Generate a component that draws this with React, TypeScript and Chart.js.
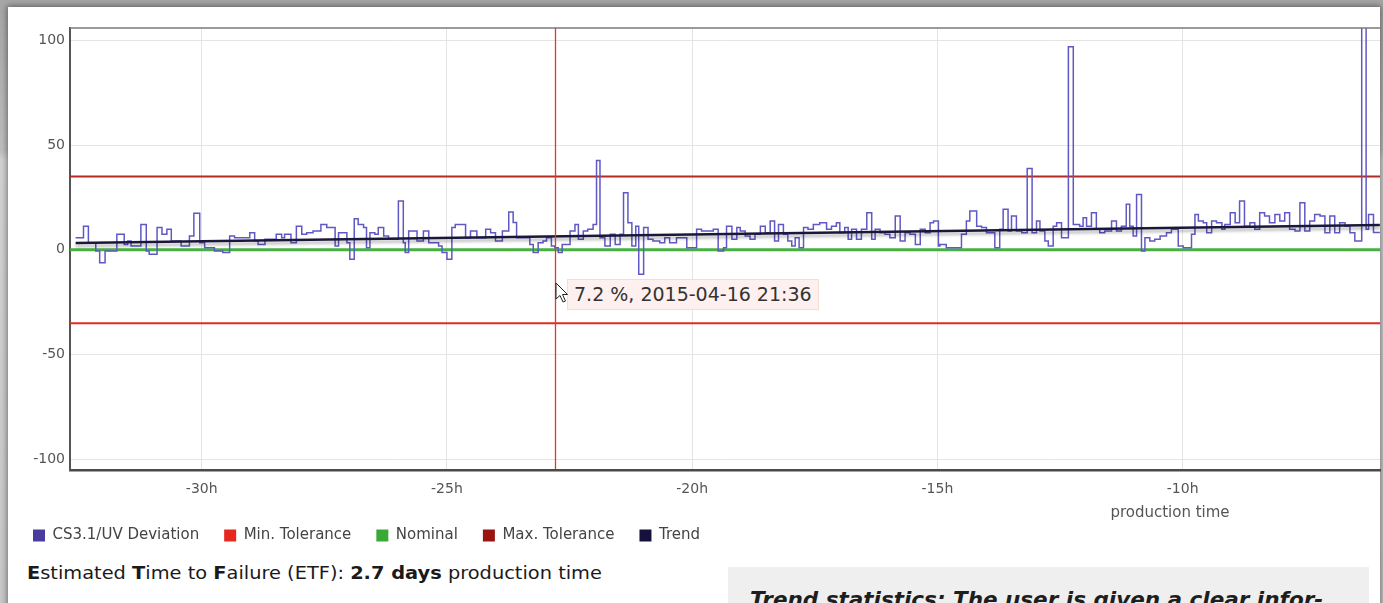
import React, { useEffect, useRef } from 'react';
import { Chart, registerables } from 'chart.js';

Chart.register(...registerables);

// ---- data ----
const deviationHours = [
  -32.57, -32.41, -32.31, -32.16, -32.08, -31.97, -31.73, -31.58, -31.51, -31.44,
  -31.24, -31.13, -31.07, -30.91, -30.81, -30.71, -30.62, -30.42, -30.25, -30.16,
  -30.04, -29.94, -29.74, -29.57, -29.43, -29.33, -29.02, -28.92, -28.85, -28.71,
  -28.48, -28.37, -28.31, -28.18, -28.07, -27.96, -27.86, -27.73, -27.57, -27.45,
  -27.28, -27.21, -27.04, -26.98, -26.89, -26.81, -26.70, -26.64, -26.57, -26.47,
  -26.40, -26.29, -26.19, -25.99, -25.89, -25.85, -25.78, -25.61, -25.48, -25.37,
  -25.17, -25.10, -25.00, -24.90, -24.83, -24.62, -24.52, -24.39, -24.21, -24.11,
  -24.01, -23.87,
  -23.74, -23.65, -23.58, -23.31, -23.24, -23.14, -23.04, -22.97, -22.87, -22.80,
  -22.73, -22.65, -22.49, -22.39, -22.32, -22.22, -22.13, -22.02, -21.95, -21.88,
  -21.78, -21.67, -21.57, -21.47, -21.40, -21.31, -21.23, -21.15,
  -21.09, -20.99, -20.90, -20.80, -20.66, -20.56, -20.46, -20.32, -20.11, -19.91,
  -19.81, -19.57, -19.47, -19.36, -19.30, -19.19, -19.09, -19.02, -18.92, -18.82,
  -18.72, -18.61, -18.51, -18.41, -18.32, -18.24, -18.14, -18.05, -17.97,
  -17.90, -17.82, -17.73, -17.64, -17.53, -17.40, -17.26, -17.16, -17.06, -16.99,
  -16.89, -16.82, -16.75, -16.65, -16.55, -16.44, -16.34, -16.27, -16.17, -16.07,
  -15.97, -15.86, -15.76, -15.66, -15.56, -15.45, -15.35, -15.25, -15.15, -15.08,
  -14.98,
  -14.95, -14.82, -14.51, -14.41, -14.34, -14.20, -14.10, -14.00, -13.83, -13.73,
  -13.66, -13.56, -13.49, -13.39, -13.28, -13.17, -13.07, -12.98, -12.91, -12.81,
  -12.74, -12.64, -12.57, -12.47, -12.33, -12.23,
  -12.10, -12.03, -11.96, -11.86, -11.76, -11.69, -11.59, -11.45, -11.35, -11.25,
  -11.15, -11.08, -11.01, -10.94, -10.84, -10.77, -10.67, -10.57, -10.46, -10.33,
  -10.23, -10.09, -9.99, -9.82, -9.75, -9.68, -9.58, -9.51, -9.41, -9.31,
  -9.20, -9.14, -9.03, -8.93,
  -8.84, -8.74, -8.63, -8.53, -8.43, -8.33, -8.23, -8.12, -8.02, -7.92,
  -7.82, -7.71, -7.61, -7.51, -7.41, -7.31, -7.20, -7.10, -7.00, -6.90,
  -6.80, -6.69, -6.59, -6.49, -6.35, -6.26, -6.21, -6.11, -5.98,
];

const deviationValues = [
  5.8, 11.3, 3.4, -0.6, -6.1, -0.6, 7.4, 2.6, 4.2, 1.8,
  12.1, -0.6, -2.1, 10.6, 7.4, 9.8, 4.2, 1.8, 6.6, 17.4,
  3.4, 1.0, -0.6, -1.3, 6.6, 5.8, 8.2, 4.2, 2.6, 5.0,
  7.4, 5.8, 7.4, 3.4, 11.3, 7.4, 8.2, 9.0, 12.1, 10.6,
  1.8, 8.2, 3.4, -4.5, 14.8, 12.1, 10.6, 1.0, 8.2, 7.4,
  10.6, 6.6, 5.0, 23.3, 3.4, -1.3, 9.0, 4.2, 9.0, 3.4,
  1.8, -1.3, -4.5, 10.6, 12.1, 5.8, 9.0, 5.8, 9.8, 8.2,
  4.2, 9.0,
  18.0, 13.0, 5.8, 2.6, -1.3, 3.4, 4.2, 5.8, 1.8, 1.0,
  -1.3, 2.6, 9.0, 12.1, 5.0, 9.0, 9.8, 12.1, 42.6, 5.8,
  1.8, 7.4, 2.6, 7.4, 27.2, 12.9, 1.8, 11.3,
  -11.7, 10.6, 5.0, 4.2, 3.4, 5.8, 3.4, 5.8, 1.0, 9.8,
  9.0, 9.8, -0.6, 1.0, 11.3, 5.0, 10.6, 9.0, 6.6, 5.0,
  7.4, 11.3, 8.2, 13.7, 4.2, 12.1, 7.4, 4.2, 1.8,
  5.8, 1.0, 10.6, 9.8, 12.1, 12.9, 9.8, 11.3, 12.9, 8.2,
  10.6, 5.0, 9.8, 5.0, 9.8, 17.7, 5.0, 9.8, 8.2, 7.4,
  5.8, 16.1, 4.2, 8.2, 7.4, 2.6, 9.8, 8.2, 12.9, 13.7,
  1.8,
  2.6, 1.0, 7.4, 13.7, 18.5, 11.3, 10.6, 8.2, 1.0, 9.8,
  19.3, 9.0, 16.1, 9.0, 8.2, 38.8, 8.2, 13.7, 9.0, 4.2,
  1.8, 11.3, 12.9, 5.8, 96.8, 12.1,
  11.3, 15.3, 11.3, 17.7, 9.8, 8.2, 9.0, 13.7, 9.0, 11.3,
  21.7, 11.3, 6.6, 26.4, -0.6, 5.8, 4.2, 5.0, 6.6, 8.2,
  9.8, 1.8, 1.0, 7.4, 16.9, 13.7, 12.9, 8.2, 13.7, 12.9,
  9.8, 12.1, 17.7, 12.9,
  23.3, 11.3, 12.9, 9.8, 17.7, 16.1, 12.9, 16.9, 13.7, 17.7,
  9.8, 9.0, 22.5, 9.0, 13.7, 16.9, 16.1, 8.2, 16.1, 8.2,
  12.9, 11.3, 8.2, 4.2, 130, 9.8, 16.9, 8.3, 8.3,
];

const trendHours = [-32.57, -5.98];
const trendValues = [3.3, 11.9];
const maxTolerance = 35;
const minTolerance = -35;
const nominalValue = 0;

const xMin = -32.685;
const xMax = -5.977;
const yMin = -105;
const yMax = 105.8;
const xTickValues = [-30, -25, -20, -15, -10];
const yTickValues = [-100, -50, 0, 50, 100];
const crosshairHour = -22.8;

const seriesLabels = ['CS3.1/UV Deviation', 'Min. Tolerance', 'Nominal', 'Max. Tolerance', 'Trend'];
const legendColors = ['#4a3c9c', '#e8271f', '#38a935', '#9a1510', '#16113a'];
const tooltipText = '7.2 %, 2015-04-16 21:36';
const xAxisTitle = 'production time';

const FONT = "'DejaVu Sans', Verdana, sans-serif";

export default function App() {
  const canvasRef = useRef<HTMLCanvasElement | null>(null);

  useEffect(() => {
    const canvas = canvasRef.current;
    if (!canvas) return;

    const flat = (v: number) => [
      { x: xMin, y: v },
      { x: xMax, y: v },
    ];

    const decorations = {
      id: 'decorations',
      beforeDatasetDraw(chart: any, args: any) {
        if (args.index === 4) {
          const ctx = chart.ctx;
          ctx.save();
          ctx.shadowColor = 'rgba(0,0,0,0.28)';
          ctx.shadowBlur = 3;
          ctx.shadowOffsetY = 3;
        }
      },
      afterDatasetDraw(chart: any, args: any) {
        if (args.index === 4) chart.ctx.restore();
      },
      afterDraw(chart: any) {
        const { ctx, chartArea, scales } = chart;
        ctx.save();
        ctx.shadowColor = 'rgba(0,0,0,0)';
        ctx.shadowBlur = 0;
        ctx.shadowOffsetY = 0;
        // top border of plot
        ctx.strokeStyle = '#7a7a7a';
        ctx.lineWidth = 1.5;
        ctx.beginPath();
        ctx.moveTo(chartArea.left, chartArea.top);
        ctx.lineTo(chartArea.right, chartArea.top);
        ctx.stroke();
        // crosshair
        const x = Math.round(scales.x.getPixelForValue(crosshairHour)) + 0.5;
        ctx.strokeStyle = 'rgb(220, 60, 40)';
        ctx.lineWidth = 1.3;
        ctx.beginPath();
        ctx.moveTo(x, chartArea.top);
        ctx.lineTo(x, chartArea.bottom - 1);
        ctx.stroke();
        ctx.restore();
      },
    };

    const chart = new Chart(canvas, {
      type: 'line',
      data: {
        datasets: [
          {
            label: seriesLabels[0],
            data: deviationHours.map((h, i) => ({ x: h, y: deviationValues[i] })),
            borderColor: '#6058c4',
            borderWidth: 1.5,
            stepped: true,
            pointRadius: 0,
            fill: false,
            order: 1,
          },
          {
            label: seriesLabels[1],
            data: flat(minTolerance),
            borderColor: '#e02a22',
            borderWidth: 2,
            pointRadius: 0,
            order: 2,
          },
          {
            label: seriesLabels[2],
            data: flat(nominalValue),
            borderColor: '#46b043',
            borderWidth: 3,
            pointRadius: 0,
            order: 2,
          },
          {
            label: seriesLabels[3],
            data: flat(maxTolerance),
            borderColor: '#b52a22',
            borderWidth: 2,
            pointRadius: 0,
            order: 2,
          },
          {
            label: seriesLabels[4],
            data: trendHours.map((h, i) => ({ x: h, y: trendValues[i] })),
            borderColor: '#1a1838',
            borderWidth: 2.5,
            pointRadius: 0,
            order: 0,
          },
        ],
      },
      options: {
        responsive: false,
        maintainAspectRatio: false,
        animation: false,
        events: [],
        layout: { padding: { left: 8, top: 28, right: 3, bottom: 0 } },
        scales: {
          x: {
            type: 'linear',
            min: xMin,
            max: xMax,
            afterBuildTicks: (s: any) => {
              s.ticks = xTickValues.map((v) => ({ value: v }));
            },
            afterFit: (s: any) => {
              s.height = 33;
            },
            ticks: {
              callback: (v: any) => `${v}h`,
              font: { family: FONT, size: 14 },
              color: '#555',
              padding: 11,
              maxRotation: 0,
            },
            grid: { color: '#e4e4e4', drawTicks: false, lineWidth: 1 },
            border: { display: true, color: '#4a4a4a', width: 2.5 },
          },
          y: {
            type: 'linear',
            min: yMin,
            max: yMax,
            afterBuildTicks: (s: any) => {
              s.ticks = yTickValues.map((v) => ({ value: v }));
            },
            afterFit: (s: any) => {
              s.width = 62;
            },
            ticks: {
              font: { family: FONT, size: 14 },
              color: '#555',
              padding: 5,
            },
            grid: { color: '#e4e4e4', drawTicks: false, lineWidth: 1 },
            border: { display: true, color: '#555', width: 2 },
          },
        },
        plugins: {
          tooltip: { enabled: false },
          legend: {
            display: true,
            position: 'bottom',
            align: 'start',
            labels: {
              boxWidth: 12,
              boxHeight: 12,
              padding: 25,
              color: '#444',
              font: { family: FONT, size: 15 },
              generateLabels: () =>
                seriesLabels.map((text, i) => ({
                  text,
                  fillStyle: legendColors[i],
                  strokeStyle: legendColors[i],
                  fontColor: '#444',
                  lineWidth: 0,
                  hidden: false,
                  datasetIndex: i,
                })),
            },
          },
        },
      } as any,
      plugins: [decorations],
    });

    return () => chart.destroy();
  }, []);

  return (
    <div
      style={{
        position: 'absolute',
        left: 0,
        top: 0,
        width: 1383,
        height: 603,
        overflow: 'hidden',
        background: 'linear-gradient(180deg, #a6a6a6 0px, #bdbdbd 150px, #d2d2d2 160px, #c8c8c8 603px)',
        fontFamily: FONT,
      }}
    >
      <div
        style={{
          position: 'absolute',
          left: 8,
          top: 7,
          width: 1372,
          height: 660,
          background: '#ffffff',
          boxShadow: '0 0 6px 1px rgba(0,0,0,0.45)',
        }}
      />
      <canvas
        ref={canvasRef}
        width={1383}
        height={553}
        style={{ position: 'absolute', left: 0, top: 0, width: 1383, height: 553 }}
      />
      <div
        style={{
          position: 'absolute',
          left: 1106,
          top: 502,
          width: 128,
          textAlign: 'center',
          fontSize: 15,
          lineHeight: '20px',
          color: '#555',
          whiteSpace: 'nowrap',
        }}
      >
        {xAxisTitle}
      </div>
      <div
        style={{
          position: 'absolute',
          left: 567,
          top: 279,
          height: 29,
          padding: '0 6px',
          background: '#fdf0ee',
          border: '1px solid #f4dcd7',
          fontSize: 19,
          lineHeight: '29px',
          color: '#333',
          whiteSpace: 'nowrap',
        }}
      >
        {tooltipText}
      </div>
      <svg
        width="14"
        height="22"
        viewBox="0 0 14 22"
        style={{ position: 'absolute', left: 555, top: 282 }}
      >
        <path
          d="M1 1 L1 17 L5 13.5 L8 20 L10.5 19 L7.5 12.5 L12.5 12.5 Z"
          fill="#ffffff"
          stroke="#222"
          strokeWidth="1"
          strokeLinejoin="round"
        />
      </svg>
      <div
        style={{
          position: 'absolute',
          left: 27,
          top: 562,
          fontSize: 17,
          lineHeight: '22px',
          color: '#1a1a1a',
          whiteSpace: 'nowrap',
          transform: 'scaleX(1.14)',
          transformOrigin: '0 0',
        }}
      >
        <b>E</b>stimated <b>T</b>ime to <b>F</b>ailure (ETF): <b>2.7 days</b> production time
      </div>
      <div
        style={{
          position: 'absolute',
          left: 728,
          top: 567,
          width: 641,
          height: 60,
          background: '#efefef',
        }}
      >
        <div
          style={{
            position: 'absolute',
            left: 22,
            top: 22,
            fontSize: 21.5,
            lineHeight: '22px',
            fontWeight: 'bold',
            fontStyle: 'italic',
            color: '#1e1e1e',
            whiteSpace: 'nowrap',
          }}
        >
          Trend statistics: The user is given a clear infor-
        </div>
      </div>
    </div>
  );
}
